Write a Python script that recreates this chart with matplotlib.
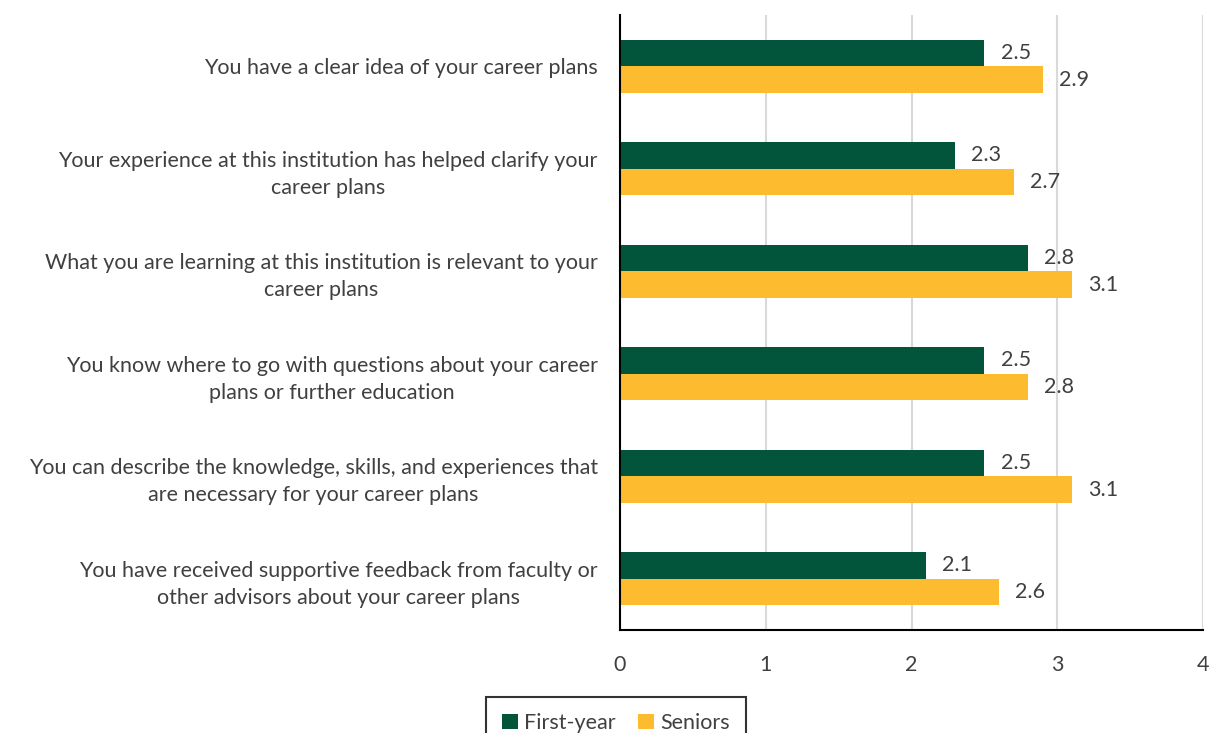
import numpy as np
import matplotlib.pyplot as plt

plt.rcParams['font.family'] = ['Lato', 'DejaVu Sans']

statements = [
    "You have a clear idea of your career plans",
    "Your experience at this institution has helped clarify your\ncareer plans",
    "What you are learning at this institution is relevant to your\ncareer plans",
    "You know where to go with questions about your career\nplans or further education",
    "You can describe the knowledge, skills, and experiences that\nare necessary for your career plans",
    "You have received supportive feedback from faculty or\nother advisors about your career plans",
]
first_year = [2.5, 2.3, 2.8, 2.5, 2.5, 2.1]
seniors = [2.9, 2.7, 3.1, 2.8, 3.1, 2.6]

green = '#02543B'
gold = '#FDBB30'
txt = '#404040'
fs = 15.5

fig = plt.figure(figsize=(12.11, 7.33), dpi=100)
ax = fig.add_axes([0.512, 0.1405, 0.4815, 0.839])

y = np.arange(len(statements))
h = 0.26
b1 = ax.barh(y - h / 2, first_year, height=h, color=green, label='First-year', zorder=3)
b2 = ax.barh(y + h / 2, seniors, height=h, color=gold, label='Seniors', zorder=3)

for bars in (b1, b2):
    for bar in bars:
        w = bar.get_width()
        ax.text(w + 0.11, bar.get_y() + bar.get_height() / 2, f"{w:.1f}",
                va='center', ha='left', fontsize=fs, color=txt)

ax.set_ylim(len(statements) - 0.5, -0.5)
ax.set_xlim(0, 4)
ax.set_xticks([0, 1, 2, 3, 4])
ax.set_yticks(y)
ax.set_yticklabels(statements, multialignment='center', linespacing=1.45)
ax.tick_params(axis='y', length=0, pad=16, labelsize=fs, labelcolor=txt)
ax.tick_params(axis='x', length=0, pad=18, labelsize=fs, labelcolor=txt)
ax.xaxis.grid(True, color='#D9D9D9', linewidth=1.5, zorder=0)
ax.set_axisbelow(True)

for s in ('top', 'right'):
    ax.spines[s].set_visible(False)
for s in ('left', 'bottom'):
    ax.spines[s].set_linewidth(1.5)
    ax.spines[s].set_color('black')
    ax.spines[s].set_zorder(4)

leg = fig.legend(loc='lower center', bbox_to_anchor=(0.5085, -0.022), ncol=2,
                 fontsize=fs, frameon=True, fancybox=False, handlelength=0.75,
                 handleheight=0.75, handletextpad=0.3, columnspacing=1.0,
                 borderpad=0.75, borderaxespad=0, labelcolor=txt)
leg.get_frame().set_edgecolor('black')
leg.get_frame().set_linewidth(1.5)

fig.savefig('out.png', dpi=100)
